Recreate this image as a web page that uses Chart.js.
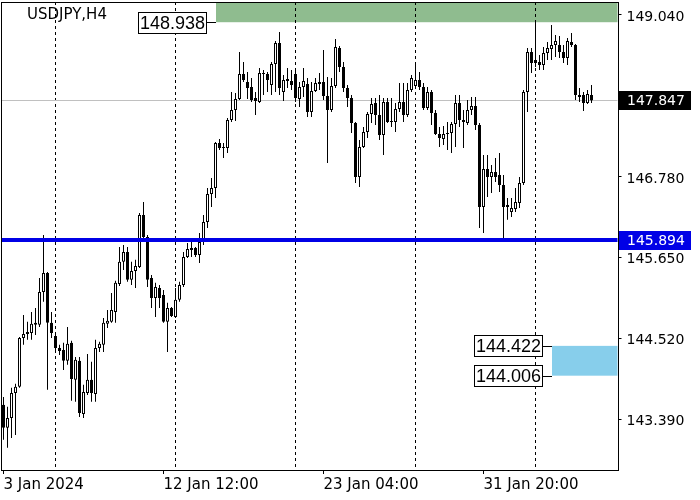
<!DOCTYPE html>
<html>
<head>
<meta charset="utf-8">
<script src="https://cdn.jsdelivr.net/npm/chart.js@4.4.1/dist/chart.umd.min.js"></script>
<style>
  html, body { margin: 0; padding: 0; background: #fff; }
</style>
</head>
<body>
<canvas id="chart" width="700" height="500"></canvas>
<script>
// USDJPY H4 candles (oldest first)
const openPrices = [
  143.599, 143.278, 143.417, 143.766, 143.850, 144.533, 144.589, 144.603, 144.743, 144.715,
  145.175, 145.440, 144.743, 144.561, 144.394, 144.366, 144.213, 144.464, 143.948, 144.213,
  143.473, 143.766, 143.948, 143.752, 144.394, 144.436, 144.729, 144.757, 144.896, 145.287,
  145.594, 145.733, 145.343, 145.468, 145.524, 146.249, 145.942, 145.370, 145.091, 145.231,
  145.133, 144.757, 144.952, 144.826, 145.064, 145.273, 145.663, 145.761, 145.789, 145.691,
  145.873, 146.152, 146.542, 146.626, 147.254, 147.198, 147.184, 147.575, 147.714, 147.867,
  148.216, 148.105, 148.035, 147.881, 147.826, 148.216, 148.216, 148.063, 148.356, 148.649,
  147.965, 148.146, 148.119, 148.216, 147.867, 148.035, 148.077, 147.686, 147.979, 148.077,
  148.105, 147.909, 147.714, 148.049, 148.579, 148.314, 148.021, 147.881, 147.533, 146.779,
  147.198, 147.407, 147.658, 147.812, 147.644, 147.365, 147.826, 147.561, 147.547, 147.728,
  147.826, 147.644, 147.993, 148.049, 148.133, 148.035, 147.742, 147.965, 147.672, 147.379,
  147.309, 147.393, 147.393, 147.519, 147.812, 147.575, 147.533, 147.714, 147.770, 147.505,
  146.361, 146.891, 146.779, 146.849, 146.807, 146.668, 146.361, 146.291, 146.333, 146.417,
  146.696, 147.965, 148.523, 148.412, 148.384, 148.342, 148.509, 148.565, 148.621, 148.621,
  148.523, 148.439, 148.663, 148.621, 147.923, 147.923, 147.812, 147.923
];
const highPrices = [
  143.710, 143.571, 143.836, 143.892, 144.547, 144.854, 144.757, 144.896, 144.952, 145.370,
  145.970, 145.454, 144.896, 144.603, 144.436, 144.464, 144.687, 144.492, 144.268, 144.268,
  143.878, 144.310, 144.199, 144.506, 144.478, 144.812, 144.924, 145.161, 145.329, 145.803,
  145.831, 145.803, 145.594, 145.622, 146.277, 146.431, 145.970, 145.412, 145.301, 145.273,
  145.203, 145.022, 144.966, 145.231, 145.315, 145.733, 145.859, 145.928, 145.803, 145.998,
  146.249, 146.626, 146.765, 147.268, 147.309, 147.254, 147.602, 147.965, 147.951, 148.523,
  148.384, 148.244, 148.160, 147.965, 148.300, 148.272, 148.244, 148.384, 148.677, 148.802,
  148.202, 148.300, 148.272, 148.300, 148.105, 148.300, 148.160, 148.105, 148.160, 148.230,
  148.551, 148.174, 148.160, 148.704, 148.607, 148.384, 148.063, 147.923, 147.547, 147.296,
  147.477, 147.686, 147.881, 147.881, 147.923, 147.881, 147.881, 147.881, 147.812, 148.091,
  148.091, 148.091, 148.202, 148.384, 148.244, 148.091, 148.035, 147.993, 147.714, 147.477,
  147.491, 147.547, 147.547, 147.923, 147.923, 147.714, 147.854, 147.895, 147.895, 147.533,
  147.086, 147.086, 146.947, 147.044, 147.114, 146.807, 146.486, 146.486, 146.626, 146.779,
  147.993, 148.579, 148.579, 148.970, 148.481, 148.593, 148.663, 148.900, 148.760, 148.746,
  148.621, 148.718, 148.788, 148.635, 148.021, 147.965, 147.993, 148.063
];
const lowPrices = [
  143.111, 142.999, 143.138, 143.180, 143.836, 144.436, 144.506, 144.506, 144.575, 144.687,
  145.036, 143.808, 144.533, 144.324, 144.296, 144.087, 144.157, 143.655, 143.641, 143.431,
  143.417, 143.738, 143.641, 143.641, 144.338, 144.338, 144.673, 144.743, 144.743, 145.259,
  145.482, 145.315, 145.273, 145.231, 145.510, 145.928, 145.245, 144.952, 144.826, 144.952,
  144.743, 144.338, 144.826, 144.812, 145.036, 145.245, 145.649, 145.663, 145.663, 145.580,
  145.831, 146.068, 146.361, 146.486, 147.156, 147.044, 147.114, 147.547, 147.561, 147.854,
  148.105, 147.867, 147.826, 147.644, 147.812, 147.923, 147.965, 147.923, 147.965, 147.923,
  147.840, 148.021, 147.993, 147.826, 147.756, 147.895, 147.616, 147.616, 147.965, 147.993,
  147.854, 146.975, 147.686, 148.021, 148.244, 147.965, 147.756, 147.393, 146.696, 146.640,
  147.184, 147.323, 147.533, 147.505, 147.296, 147.086, 147.533, 147.477, 147.407, 147.686,
  147.547, 147.616, 147.965, 148.021, 147.993, 147.714, 147.714, 147.505, 147.365, 147.198,
  147.226, 147.156, 147.114, 147.198, 147.477, 147.184, 147.505, 147.644, 147.435, 146.068,
  145.998, 146.500, 146.556, 146.710, 146.570, 145.887, 146.180, 146.221, 146.291, 146.347,
  146.668, 147.686, 148.230, 148.314, 148.272, 148.272, 148.412, 148.412, 148.453, 148.439,
  148.370, 148.342, 148.593, 147.854, 147.826, 147.700, 147.798, 147.812
];
const closePrices = [
  143.278, 143.417, 143.766, 143.850, 144.533, 144.589, 144.617, 144.729, 144.715, 145.175,
  145.440, 144.743, 144.603, 144.394, 144.352, 144.213, 144.450, 143.961, 144.227, 143.487,
  143.780, 143.948, 143.766, 144.394, 144.450, 144.743, 144.771, 144.924, 145.301, 145.594,
  145.733, 145.343, 145.468, 145.538, 146.249, 145.942, 145.343, 145.091, 145.245, 145.091,
  144.757, 144.952, 144.840, 145.064, 145.273, 145.663, 145.775, 145.789, 145.691, 145.873,
  146.152, 146.542, 146.626, 147.254, 147.184, 147.184, 147.575, 147.714, 147.867, 148.216,
  148.133, 148.021, 147.854, 147.840, 148.230, 148.230, 148.133, 148.356, 148.649, 148.021,
  148.133, 148.119, 148.063, 147.881, 148.035, 148.119, 147.686, 147.979, 148.091, 148.105,
  147.909, 147.714, 148.049, 148.593, 148.314, 148.021, 147.881, 147.533, 146.779, 147.198,
  147.407, 147.658, 147.798, 147.644, 147.365, 147.826, 147.547, 147.547, 147.728, 147.826,
  147.644, 147.993, 148.160, 148.133, 148.035, 147.742, 147.965, 147.672, 147.379, 147.323,
  147.379, 147.379, 147.519, 147.812, 147.575, 147.547, 147.714, 147.770, 147.505, 146.361,
  146.891, 146.779, 146.849, 146.779, 146.668, 146.361, 146.389, 146.347, 146.431, 146.696,
  147.965, 148.523, 148.370, 148.370, 148.342, 148.509, 148.579, 148.621, 148.677, 148.523,
  148.439, 148.677, 148.621, 147.923, 147.895, 147.812, 147.937, 147.847
];

const shiftBars = 6;                  // empty space right of the last bar
const tickBars = [0, 40, 80, 120];
const tickTexts = ['3 Jan 2024', '12 Jan 12:00', '23 Jan 04:00', '31 Jan 20:00'];
const separatorBars = [13, 43, 73, 103, 133];
const priceTicks = [143.390, 144.520, 145.650, 146.780, 147.910, 149.040];
const priceMin = 142.69, priceMax = 149.22;

const lastPrice = 147.847;
const levelPrice = 145.894;
const upperZoneLow = 148.938, upperZoneBar = 53;
const lowerZone = [144.006, 144.422], lowerZoneBar = 137;

const labels = [...Array(openPrices.length + shiftBars).keys()];
const BLUE = '#0000e6';

function boxLabel(ctx, text, zoneX, yPix) {
  const w = 68, h = 21;
  const right = Math.round(zoneX - 10);
  const left = right - w + 0.5, top = Math.round(yPix - h / 2) + 0.5;
  ctx.fillStyle = '#fff';
  ctx.fillRect(left, top, w, h);
  ctx.strokeStyle = '#000';
  ctx.lineWidth = 1;
  ctx.strokeRect(left, top, w, h);
  ctx.beginPath();
  ctx.moveTo(right, Math.round(yPix) + 0.5);
  ctx.lineTo(zoneX, Math.round(yPix) + 0.5);
  ctx.stroke();
  ctx.fillStyle = '#000';
  ctx.font = '18px "Liberation Sans"';
  ctx.textAlign = 'center';
  ctx.textBaseline = 'middle';
  ctx.fillText(text, left + w / 2, top + h / 2 + 1);
}

function axisLabel(ctx, text, yPix, bg) {
  ctx.fillStyle = bg;
  ctx.fillRect(619, Math.round(yPix) - 9, 72, 19);
  ctx.fillStyle = '#fff';
  ctx.font = '14px "DejaVu Sans"';
  ctx.textAlign = 'left';
  ctx.textBaseline = 'middle';
  ctx.fillText(text, 627, Math.round(yPix) + 1);
}

const overlay = {
  id: 'overlay',
  beforeDatasetsDraw(chart) {
    const { ctx, chartArea: a, scales: { x, y } } = chart;
    ctx.save();
    // zones
    const gx = Math.round(x.getPixelForValue(upperZoneBar));
    ctx.fillStyle = '#8fbc8f';
    ctx.fillRect(gx, a.top, a.right - gx, y.getPixelForValue(upperZoneLow) - a.top);
    const bx = Math.round(x.getPixelForValue(lowerZoneBar));
    const by1 = y.getPixelForValue(lowerZone[1]), by2 = y.getPixelForValue(lowerZone[0]);
    ctx.fillStyle = '#87ceeb';
    ctx.fillRect(bx, by1, a.right - bx, by2 - by1);
    // week separators
    ctx.strokeStyle = '#000';
    ctx.lineWidth = 1;
    ctx.setLineDash([3, 3]);
    separatorBars.forEach(b => {
      const px = Math.floor(x.getPixelForValue(b)) + 0.5;
      ctx.beginPath();
      ctx.moveTo(px, a.top);
      ctx.lineTo(px, a.bottom);
      ctx.stroke();
    });
    ctx.setLineDash([]);
    // last price line
    const ly = Math.round(y.getPixelForValue(lastPrice)) + 0.5;
    ctx.strokeStyle = '#c0c0c0';
    ctx.beginPath();
    ctx.moveTo(a.left, ly);
    ctx.lineTo(a.right, ly);
    ctx.stroke();
    ctx.restore();
  },
  afterDatasetsDraw(chart) {
    const { ctx, chartArea: a, scales: { x, y } } = chart;
    ctx.save();
    const vy = Math.round(y.getPixelForValue(levelPrice));
    ctx.fillStyle = BLUE;
    ctx.fillRect(a.left, vy - 2, a.right - a.left, 4);
    boxLabel(ctx, upperZoneLow.toFixed(3), Math.round(x.getPixelForValue(upperZoneBar)), y.getPixelForValue(upperZoneLow));
    const bx = Math.round(x.getPixelForValue(lowerZoneBar));
    boxLabel(ctx, lowerZone[1].toFixed(3), bx, y.getPixelForValue(lowerZone[1]));
    boxLabel(ctx, lowerZone[0].toFixed(3), bx, y.getPixelForValue(lowerZone[0]));
    ctx.restore();
  },
  afterDraw(chart) {
    const { ctx, chartArea: a, scales: { y } } = chart;
    ctx.save();
    // chart frame, snapped to whole pixels
    ctx.strokeStyle = '#000';
    ctx.lineWidth = 1;
    const l = Math.floor(a.left) + 0.5, r = Math.ceil(a.right) + 0.5;
    const t = Math.floor(a.top) + 0.5, b = Math.round(a.bottom) + 0.5;
    ctx.strokeRect(l, t, r - l, b - t);
    ctx.fillStyle = '#000';
    ctx.font = '15px "DejaVu Sans"';
    ctx.textAlign = 'left';
    ctx.textBaseline = 'middle';
    ctx.fillText('USDJPY,H4', 27, 15);
    axisLabel(ctx, lastPrice.toFixed(3), y.getPixelForValue(lastPrice), '#000');
    axisLabel(ctx, levelPrice.toFixed(3), y.getPixelForValue(levelPrice), BLUE);
    ctx.restore();
  }
};

new Chart(document.getElementById('chart'), {
  type: 'bar',
  data: {
    labels,
    datasets: [
      {
        label: 'body',
        data: openPrices.map((o, i) => [o, closePrices[i]]),
        backgroundColor: openPrices.map((o, i) => closePrices[i] >= o ? '#ffffff' : '#000000'),
        borderColor: '#000',
        borderWidth: 1,
        borderSkipped: false,
        inflateAmount: 0,
        barThickness: 3,
        grouped: false,
        order: 0
      },
      {
        label: 'wick',
        data: lowPrices.map((l, i) => [l, highPrices[i]]),
        backgroundColor: '#000',
        borderWidth: 0,
        inflateAmount: 0,
        barThickness: 1,
        grouped: false,
        order: 1
      }
    ]
  },
  options: {
    responsive: false,
    animation: false,
    devicePixelRatio: 1,
    layout: { padding: { left: 1.5, top: 2, right: 0.5, bottom: 0 } },
    plugins: { legend: { display: false }, tooltip: { enabled: false } },
    scales: {
      x: {
        type: 'category',
        offset: true,
        afterFit: s => { s.height = 30; s.paddingLeft = 0; s.paddingRight = 0; },
        afterBuildTicks: s => { s.ticks = tickBars.map(v => ({ value: v })); },
        grid: { drawOnChartArea: false, tickLength: 4, offset: false, color: '#000' },
        border: { display: false },
        ticks: {
          autoSkip: false,
          maxRotation: 0,
          align: 'start',
          padding: 2,
          color: '#000',
          font: { family: 'DejaVu Sans', size: 15 },
          callback: v => tickTexts[tickBars.indexOf(v)]
        }
      },
      y: {
        position: 'right',
        min: priceMin,
        max: priceMax,
        afterFit: s => { s.width = 82; s.paddingTop = 0; s.paddingBottom = 0; },
        afterBuildTicks: s => { s.ticks = priceTicks.map(v => ({ value: v })); },
        grid: { drawOnChartArea: false, tickLength: 4, color: '#000' },
        border: { display: false },
        ticks: {
          padding: 5,
          labelOffset: 2,
          color: '#000',
          font: { family: 'DejaVu Sans', size: 14 },
          callback: v => v.toFixed(3)
        }
      }
    }
  },
  plugins: [overlay]
});
</script>
</body>
</html>
